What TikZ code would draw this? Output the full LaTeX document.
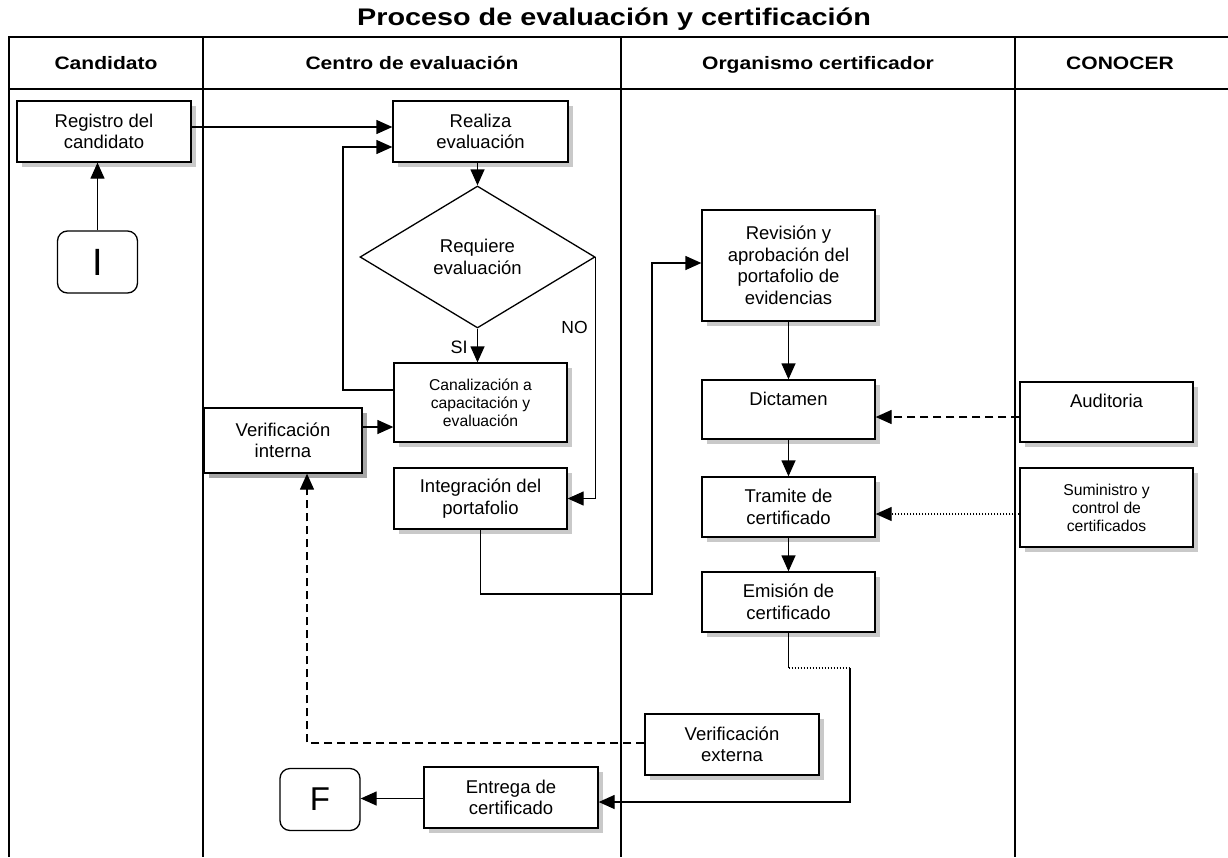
\documentclass[tikz,border=0pt]{standalone}
\usepackage{fontspec}
\usepackage{graphicx}
\setmainfont{Liberation Sans}
\usetikzlibrary{arrows.meta,shapes.geometric,shadows,calc}

\begin{document}
\begin{tikzpicture}[x=1pt,y=-1pt,
  frame/.style={line width=1.6pt},
  boxbase/.style={draw, line width=1.3pt, fill=white, align=center, inner sep=2pt,
    font=\fontsize{18.5}{21.5}\selectfont},
  shaded/.style={boxbase, drop shadow={shadow xshift=5pt, shadow yshift=-5pt,
    fill=gray!42, opacity=1}},
  darkshaded/.style={boxbase, drop shadow={shadow xshift=5pt, shadow yshift=-5pt,
    fill=gray!70, opacity=1}},
  small/.style={font=\fontsize{15.7}{18}\selectfont},
  terminal/.style={draw, line width=1.3pt, fill=white, rounded corners=10pt,
    minimum width=80pt, minimum height=62pt},
  lanehead/.style={anchor=base, font=\bfseries\fontsize{18}{21}\selectfont},
  arr/.style={line width=1.3pt, -{Triangle[length=16pt,width=14pt]}},
  link/.style={line width=1.3pt},
  dashlink/.style={line width=1.3pt, dash pattern=on 8pt off 5pt},
  dotlink/.style={line width=1.1pt, dash pattern=on 1.2pt off 1.8pt},
]
\useasboundingbox (0,0) rectangle (1228,857);

% title and swimlane frame
\node[font=\bfseries\fontsize{24}{28}\selectfont] (title) at (614,19) {\scalebox{1.2}[1]{Proceso de evaluación y certificación}};
\draw[frame] (1228,37) -- (9,37) -- (9,857);
\draw[frame] (9,89) -- (1228,89);
\draw[frame] (203,37) -- (203,857);
\draw[frame] (621,37) -- (621,857);
\draw[frame] (1015,37) -- (1015,857);

\node[lanehead] (h1) at (106,69.5) {\scalebox{1.17}[1]{Candidato}};
\node[lanehead] (h2) at (412,69.5) {\scalebox{1.17}[1]{Centro de evaluación}};
\node[lanehead] (h3) at (818,69.5) {\scalebox{1.17}[1]{Organismo certificador}};
\node[lanehead] (h4) at (1120,69.5) {\scalebox{1.17}[1]{CONOCER}};

% process steps
\node[shaded, minimum width=174pt, minimum height=61pt] (reg) at (104,131.5) {Registro del\\candidato};
\node[terminal, font=\fontsize{38}{40}\selectfont] (ini) at (97.5,262) {I};
\node[shaded, minimum width=175pt, minimum height=61pt] (real) at (480.5,131.5) {Realiza\\evaluación};
\node[draw, line width=1.3pt, shape=diamond, inner sep=0pt, minimum width=235pt, minimum height=142pt,
  align=center, font=\fontsize{18.5}{21.5}\selectfont] (dec) at (477.5,257) {Requiere\\evaluación};
\node[shaded, small, minimum width=173pt, minimum height=79pt] (can) at (480.5,402.5) {Canalización a\\capacitación y\\evaluación};
\node[darkshaded, minimum width=158pt, minimum height=65pt] (vint) at (283,440.5) {Verificación\\interna};
\node[shaded, minimum width=173pt, minimum height=61pt] (integ) at (480.5,498.5) {Integración del\\portafolio};
\node[shaded, minimum width=173pt, minimum height=111pt] (rev) at (788.5,265.5) {Revisión y\\aprobación del\\portafolio de\\evidencias};
\node[shaded, minimum width=173pt, minimum height=59pt] (dict) at (788.5,409.5) {Dictamen\\~};
\node[shaded, minimum width=173pt, minimum height=60pt] (aud) at (1106.5,412) {Auditoria\\~};
\node[shaded, small, minimum width=173pt, minimum height=79pt] (sum) at (1106.5,507.5) {Suministro y\\control de\\certificados};
\node[shaded, minimum width=173pt, minimum height=60pt] (tram) at (788.5,507) {Tramite de\\certificado};
\node[shaded, minimum width=173pt, minimum height=60pt] (emi) at (788.5,602) {Emisión de\\certificado};
\node[shaded, minimum width=174pt, minimum height=61pt] (vext) at (732,744.5) {Verificación\\externa};
\node[shaded, minimum width=174pt, minimum height=61pt] (ent) at (511,797.5) {Entrega de\\certificado};
\node[terminal, font=\fontsize{33}{36}\selectfont] (fin) at (320,799.5) {F};

% bend points
\coordinate (loopx) at (343,390);
\coordinate (portb) at (652,594);
\coordinate (emid) at (788.5,668);
\coordinate (emir) at (850,668);

% connectors
\draw[arr] (ini.north) -- (ini.north |- reg.south);
\draw[arr] ([yshift=4.5pt]reg.east) -- ([yshift=4.5pt]reg.east -| real.west);
\draw[arr] ([yshift=12.5pt]can.west) -- (loopx) |- ([yshift=-15.5pt]real.west);
\draw[arr] (real.south -| dec.north) -- (dec.north);
\draw[arr] (dec.south) -- (dec.south |- can.north) node[pos=0.55, left, xshift=-6pt, font=\fontsize{18}{20}\selectfont] {SI};
\draw[arr] (dec.east) -- (dec.east |- integ.east) node[pos=0.29, left, xshift=-4pt, font=\fontsize{17.5}{20}\selectfont] {NO} -- (integ.east);
\draw[arr] ([yshift=13.5pt]vint.east) -- ([yshift=13.5pt]vint.east -| can.west);
\draw[arr] (integ.south) |- (portb) |- ([yshift=2.5pt]rev.west);
\draw[arr] (rev) -- (dict);
\draw[arr, dashlink] ([yshift=-5pt]aud.west) -- ([yshift=-5pt]aud.west -| dict.east);
\draw[arr, dotlink] ([yshift=-6.5pt]sum.west) -- ([yshift=-6.5pt]sum.west -| tram.east);
\draw[arr] (dict) -- (tram);
\draw[arr] (tram) -- (emi);
\draw[link] (emi.south) -- (emid);
\draw[dotlink] (emid) -- (emir);
\draw[arr] (emir) |- ([yshift=-4.5pt]ent.east);
\draw[arr, dashlink] ([yshift=1.5pt]vext.west) -| ([xshift=24pt]vint.south);
\draw[arr] ([yshift=-1pt]ent.west) -- ([yshift=-1pt]ent.west -| fin.east);
\end{tikzpicture}
\end{document}
